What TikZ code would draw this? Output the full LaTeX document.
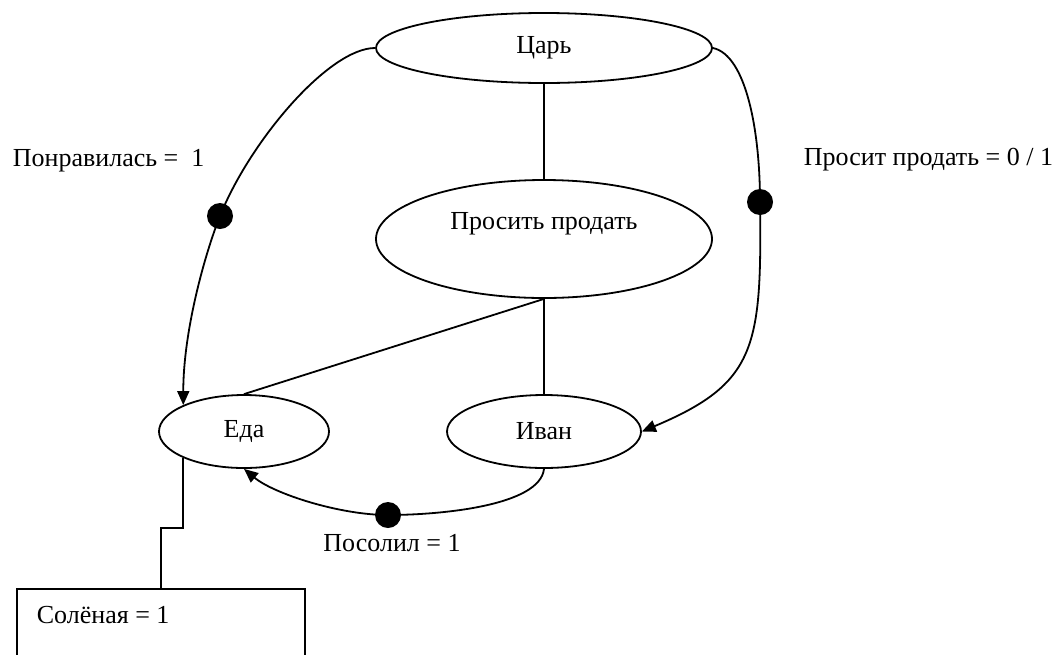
\documentclass[tikz,border=0pt]{standalone}
\usepackage{fontspec}
\setmainfont{Liberation Serif}
\usetikzlibrary{shapes.geometric,arrows.meta}

\begin{document}
\begin{tikzpicture}[x=1pt, y=-1pt, line width=1.8pt,
  every node/.style={font=\fontsize{26}{30}\selectfont},
  state/.style={draw, ellipse, inner sep=0pt},
  dot/.style={circle, fill, inner sep=0pt, minimum size=26pt},
  tag/.style={inner sep=0pt},
  >={Triangle[length=14pt,width=12pt]}]
  \clip (0,0) rectangle (1062,654);
  \node (tsar) [state, minimum width=336pt, minimum height=70pt] at (544,48) {Царь};
  \node (ask) [state, minimum width=336pt, minimum height=118pt, text depth=37pt] at (544,239) {Просить продать};
  \node (food) [state, minimum width=170pt, minimum height=73pt] at (244,431.5) {Еда};
  \node (ivan) [state, minimum width=194pt, minimum height=73pt] at (544,431.5) {Иван};
  \node (salt) [draw, anchor=north west, minimum width=288pt, minimum height=100pt] at (16,588) {};
  \node (dl) [dot] at (220,216) {};
  \node (dr) [dot] at (760,202) {};
  \node (db) [dot] at (388,515) {};
  \node (like) [tag, anchor=base west] at (12,166) {Понравилась =\ \ 1};
  \node (asks) [tag, anchor=base west] at (803,165) {Просит продать = 0 / 1};
  \node (salted) [tag, anchor=base] at (392,551) {Посолил = 1};
  \node (saltv) [tag, anchor=base west] at (36,623) {Солёная = 1};
  \draw (tsar) -- (ask);
  \draw (ask.south) -- (food.north);
  \draw (ask.south) -- (ivan.north);
  \draw[->] (tsar.west) .. controls +(-46,0) and +(30,-75) .. (dl.center)
    .. controls +(-15,37.5) and +(0,-74) .. (food.north west);
  \draw[->] (tsar.east) .. controls +(33,7) and +(0,-72) .. (dr.center)
    .. controls +(2,146) and +(114,-48) .. (ivan.east);
  \draw[->] (ivan.south) .. controls +(-4,37) and +(52,0) .. (db.center)
    .. controls +(-48,0) and +(30,25) .. (food.south);
  \draw (food.south west) -- ++(0,70) -| (salt.north);
\end{tikzpicture}
\end{document}
